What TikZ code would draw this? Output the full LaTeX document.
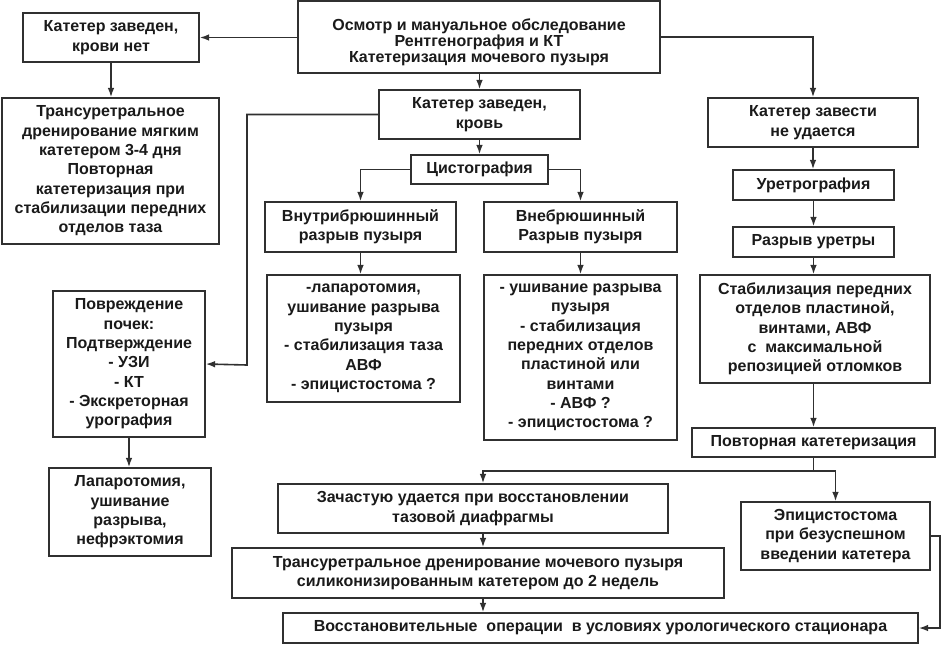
\documentclass[tikz,border=0pt]{standalone}
\usepackage{fontspec}
\setmainfont{Liberation Sans}
\usetikzlibrary{arrows.meta,calc}
\definecolor{ink}{HTML}{1A1A1A}
\definecolor{edge}{HTML}{303030}
\begin{document}
\begin{tikzpicture}[x=0.75pt,y=-0.75pt,
  box/.style={draw=edge,line width=1.2pt,fill=white,inner sep=0pt,align=center,
    text=ink,font=\fontsize{12pt}{14.5pt}\selectfont\bfseries},
  tight/.style={font=\fontsize{12pt}{12pt}\selectfont\bfseries},
  wh/.style 2 args={minimum width=#1*0.75pt,minimum height=#2*0.75pt},
  conn/.style={draw=edge,line width=1.2pt},
  arr/.style={conn,-{Latex[length=7pt,width=5pt]}}]
\useasboundingbox (0,0) rectangle (946,644);
\node[box,tight,wh={362}{72}] (top) at (479,37) {\rule{0pt}{16pt}Осмотр и мануальное обследование\\Рентгенография и КТ\\Катетеризация мочевого пузыря};
\node[box,wh={176}{49}] (b2) at (111,37.5) {Катетер заведен,\\крови нет};
\node[box,wh={217}{146}] (b3) at (110.5,171) {Трансуретральное\\дренирование мягким\\катетером 3-4 дня\\Повторная\\катетеризация при\\стабилизации передних\\отделов таза};
\node[box,wh={201}{49}] (b4) at (479.5,114.5) {Катетер заведен,\\кровь};
\node[box,wh={137}{29}] (b5) at (479.5,169.5) {Цистография};
\node[box,wh={191}{50}] (b6) at (360.5,227) {Внутрибрюшинный\\разрыв пузыря};
\node[box,wh={193}{50}] (b7) at (580.5,227) {Внебрюшинный\\Разрыв пузыря};
\node[box,wh={210}{49}] (b8) at (813,122.5) {Катетер завести\\не удается};
\node[box,wh={161}{30}] (b9) at (813.5,185) {Уретрография};
\node[box,wh={161}{30}] (b10) at (813.5,242) {Разрыв уретры};
\node[box,wh={193}{127}] (b11) at (363.5,338.5) {-лапаротомия,\\ушивание разрыва\\пузыря\\- стабилизация таза\\АВФ\\- эпицистостома ?};
\node[box,wh={193}{165}] (b12) at (580.5,357.5) {- ушивание разрыва\\пузыря\\- стабилизация\\передних отделов\\пластиной или\\винтами\\- АВФ ?\\- эпицистостома ?};
\node[box,wh={230}{108}] (b13) at (815,329) {Стабилизация передних\\отделов пластиной,\\винтами, АВФ\\с~ максимальной\\репозицией отломков};
\node[box,wh={243}{29}] (b14) at (813.5,442.5) {Повторная катетеризация};
\node[box,wh={152}{146}] (b15) at (129,364) {Повреждение\\почек:\\Подтверждение\\- УЗИ\\- КТ\\- Экскреторная\\урография};
\node[box,wh={162}{88}] (b16) at (130,512) {Лапаротомия,\\ушивание\\разрыва,\\нефрэктомия};
\node[box,wh={390}{49}] (b17) at (473,508.5) {Зачастую удается при восстановлении\\тазовой диафрагмы};
\node[box,wh={492}{50}] (b18) at (478,573) {Трансуретральное дренирование мочевого пузыря\\силиконизированным катетером до 2 недель};
\node[box,wh={635}{30}] (b19) at (600.5,628) {Восстановительные~ операции~ в условиях урологического стационара};
\node[box,wh={189}{68}] (b20) at (835.5,536) {Эпицистостома\\при безуспешном\\введении катетера};
\coordinate (k1) at (247,365);
\coordinate (ja) at (483,471);
\coordinate (k2) at (940,628);
\draw[arr] (top.west |- b2) -- (b2.east);
\draw[arr] (b2.south) -- (b2.south |- b3.north);
\draw[arr] (top.south -| b4) -- (b4.north);
\draw[arr] (top.east) -| (b8.north);
\draw[arr] (b4.west) -| (k1) -- (b15.east);
\draw[arr] (b4.south) -- (b5.north);
\draw[arr] (b5.west) -| (b6.north);
\draw[arr] (b5.east) -| (b7.north);
\draw[arr] (b6.south) -- (b6.south |- b11.north);
\draw[arr] (b7.south) -- (b12.north);
\draw[arr] (b8.south) -- (b8.south |- b9.north);
\draw[arr] (b9.south) -- (b10.north);
\draw[arr] (b10.south) -- (b10.south |- b13.north);
\draw[arr] (b13.south -| b14) -- (b14.north);
\draw[arr] (b15.south) -- (b15.south |- b16.north);
\draw[conn] (b14.south) -- (b14.south |- ja);
\draw[arr] (b14.south |- ja) -- (ja) -- (ja |- b17.north);
\draw[arr] (b14.south |- ja) -| (b20.north);
\draw[arr] (ja |- b17.south) -- (ja |- b18.north);
\draw[arr] (ja |- b18.south) -- (ja |- b19.north);
\draw[arr] (b20.east) -| (k2) -- (b19.east);
\end{tikzpicture}
\end{document}
